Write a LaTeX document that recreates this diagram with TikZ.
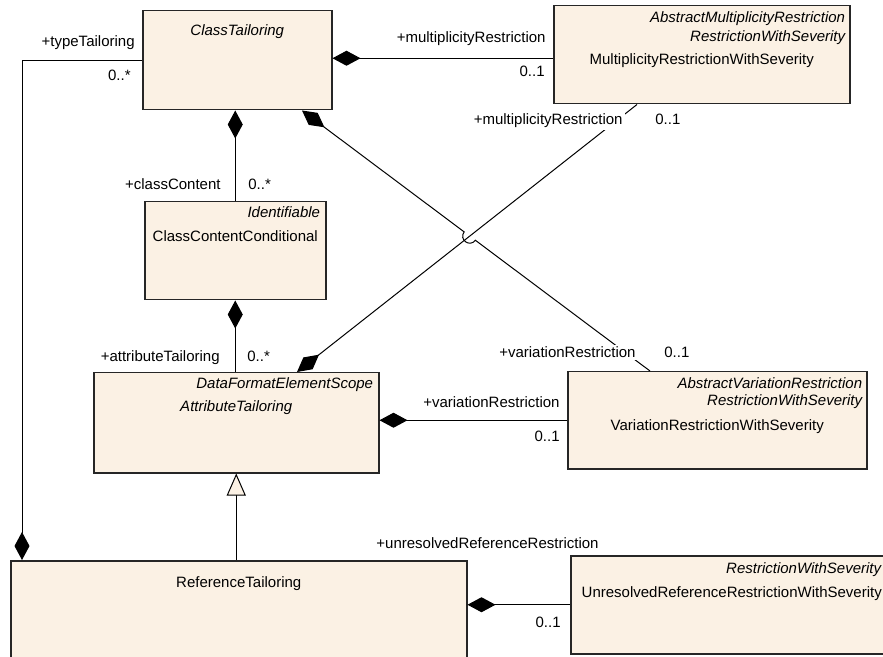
\documentclass[tikz,border=0pt]{standalone}
\usepackage{fontspec}
\setmainfont{Liberation Sans}
\usepackage{tikz}
\usetikzlibrary{arrows.meta,calc}
\usepackage{xcolor}
\definecolor{clsfill}{RGB}{251,241,228}
\newcommand{\umlfont}{\fontsize{7.5}{9}\selectfont}

\begin{document}
\begin{tikzpicture}[x=0.5pt, y=-0.5pt,
  font=\umlfont,
  cls/.style={draw=black!85, line width=0.75pt, fill=clsfill, anchor=north west, inner sep=0pt},
  cname/.style={anchor=base, inner sep=0pt},
  stereo/.style={anchor=base east, inner sep=0pt, font=\umlfont\itshape},
  lab/.style={fill=white, inner sep=1pt},
  comp/.style={line width=0.5pt, {Diamond[length=14pt, width=7.5pt]}-},
  compend/.style={line width=0.5pt, -{Diamond[length=14pt, width=7.5pt]}},
  gen/.style={line width=0.5pt, -{Triangle[length=11pt, width=9.5pt, fill=clsfill]}}]
\path[use as bounding box, fill=white] (0,0) rectangle (883,657);
\clip (0,0) rectangle (883,657);
\node[cls, minimum width=94.5pt, minimum height=49.5pt] (ct) at (142,10) {};
\node[cls, minimum width=148pt, minimum height=49pt] (mr) at (553,5) {};
\node[cls, minimum width=90.5pt, minimum height=49pt] (ccc) at (144,201) {};
\node[cls, minimum width=142.5pt, minimum height=50pt] (at) at (93,372) {};
\node[cls, minimum width=149.5pt, minimum height=48.5pt] (vr) at (567,371) {};
\node[cls, minimum width=228pt, minimum height=55pt] (rt) at (10,560) {};
\node[cls, minimum width=161pt, minimum height=49pt] (ur) at (570,555) {};
\node[cname, font=\umlfont\itshape] (ctn) at ($(ct.north)+(0,26)$) {ClassTailoring};
\node[stereo] (mrs1) at ($(mr.north east)+(-5,18)$) {AbstractMultiplicityRestriction};
\node[stereo] (mrs2) at ($(mr.north east)+(-5,37)$) {RestrictionWithSeverity};
\node[cname] (mrn) at ($(mr.north)+(0,60)$) {MultiplicityRestrictionWithSeverity};
\node[stereo] (cccs) at ($(ccc.north east)+(-6,17)$) {Identifiable};
\node[cname] (cccn) at ($(ccc.north)+(0,41)$) {ClassContentConditional};
\node[stereo] (ats) at ($(at.north east)+(-6,16)$) {DataFormatElementScope};
\node[cname, font=\umlfont\itshape] (atn) at ($(at.north)+(0,39)$) {AttributeTailoring};
\node[stereo] (vrs1) at ($(vr.north east)+(-5,17)$) {AbstractVariationRestriction};
\node[stereo] (vrs2) at ($(vr.north east)+(-5,35)$) {RestrictionWithSeverity};
\node[cname] (vrn) at ($(vr.north)+(0,59)$) {VariationRestrictionWithSeverity};
\node[cname] (rtn) at ($(rt.north)+(0,27)$) {ReferenceTailoring};
\node[stereo] (urs) at ($(ur.north east)+(-12,18)$) {RestrictionWithSeverity};
\node[cname] (urn) at ($(ur.north)+(0,42)$) {UnresolvedReferenceRestrictionWithSeverity};
\coordinate (ctr) at ($(ct.east)+(0,-2)$);
\coordinate (ctx) at ($(ct.south west)+(160,0)$);
\coordinate (vrx) at ($(vr.north west)+(83,0)$);
\coordinate (atx) at ($(at.north west)+(204,0)$);
\coordinate (mrx) at ($(mr.south west)+(84,0)$);
\coordinate (xing) at (intersection of ctx--vrx and atx--mrx);
\coordinate (hopa) at ($(xing)!3.5pt!(ctx)$);
\coordinate (hopb) at ($(xing)!3.5pt!(vrx)$);
\draw[compend] (ct.west) -| ($(rt.north west)+(12,0)$);
\draw[comp] (ctr) -- (ctr -| mr.west);
\draw[comp] (ccc.north |- ct.south) -- (ccc.north);
\draw[comp] (ccc.south) -- (ccc.south |- at.north);
\draw[comp] (atx) -- (mrx);
\draw[comp] (ctx) -- (hopa) .. controls ($(hopa)!4.7pt!-90:(xing)$) and ($(hopb)!4.7pt!90:(xing)$) .. (hopb) -- (vrx);
\draw[comp] (vr.west -| at.east) -- (vr.west);
\draw[gen] (at.south |- rt.north) -- (at.south);
\draw[comp] (ur.west -| rt.east) -- (ur.west);
\node[lab, anchor=base east] (l1) at (137,47) {+typeTailoring};
\node[lab, anchor=base east] (m1) at (133,81) {0..*};
\node[lab, anchor=base east] (l2) at (548,43) {+multiplicityRestriction};
\node[lab, anchor=base east] (m2) at (547,77) {0..1};
\node[lab, anchor=base east] (l3) at (223,190) {+classContent};
\node[lab, anchor=base west] (m3) at (246,190) {0..*};
\node[lab, anchor=base east] (l4) at (222,362) {+attributeTailoring};
\node[lab, anchor=base west] (m4) at (245,362) {0..*};
\node[lab, anchor=base east] (l5) at (625,125) {+multiplicityRestriction};
\node[lab, anchor=base west] (m5) at (653,125) {0..1};
\node[lab, anchor=base east] (l6) at (638,358) {+variationRestriction};
\node[lab, anchor=base west] (m6) at (662,358) {0..1};
\node[lab, anchor=base east] (l7) at (562,408) {+variationRestriction};
\node[lab, anchor=base east] (m7) at (562,441) {0..1};
\node[lab, anchor=base east] (l8) at (601,548) {+unresolvedReferenceRestriction};
\node[lab, anchor=base east] (m8) at (563,627) {0..1};
\end{tikzpicture}
\end{document}
